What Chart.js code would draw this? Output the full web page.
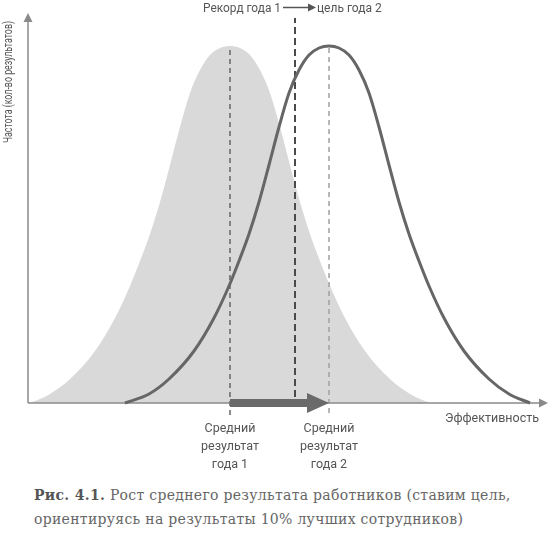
<!DOCTYPE html>
<html>
<head>
<meta charset="utf-8">
<script src="https://cdn.jsdelivr.net/npm/chart.js@4.4.1/dist/chart.umd.min.js"></script>
<style>
  body { margin: 0; background: #fff; width: 550px; height: 540px; overflow: hidden; position: relative; }
  #wrap { position: absolute; left: 0; top: 0; width: 550px; height: 480px; }
  .caption {
    position: absolute; left: 34px; top: 483px;
    font-family: "DejaVu Serif", "Liberation Serif", serif;
    font-size: 14px; line-height: 24px; letter-spacing: 0.3px; color: #666; white-space: nowrap;
  }
  .caption b { color: #555; }
</style>
</head>
<body>
<div id="wrap"><canvas id="chart" width="550" height="480"></canvas></div>
<div class="caption"><b>Рис. 4.1.</b> Рост среднего результата работников (ставим цель,<br>ориентируясь на результаты 10% лучших сотрудников)</div>
<script>
// effectiveness (x) and frequency (y)
const year1X = [2, 22, 42, 67, 87, 102, 112, 122, 132, 142, 152, 162, 172, 182, 192, 202,
                212, 222, 232, 242, 252, 262, 272, 282, 292, 302, 317, 337, 362, 382, 402];
const year1Y = [0, 9, 24, 52, 85, 117, 142, 169, 201, 238, 276, 310, 333, 348, 355, 357,
                355, 348, 333, 310, 276, 238, 201, 169, 142, 117, 85, 52, 24, 9, 0];

const year2X = [97, 121, 141, 166, 186, 201, 211, 221, 231, 241, 251, 261, 271, 281, 291, 301,
                311, 321, 331, 341, 351, 361, 371, 381, 391, 401, 416, 436, 461, 481, 502];
const year2Y = [0, 9, 24, 52, 85, 117, 142, 169, 201, 238, 276, 310, 333, 348, 355, 357,
                355, 348, 333, 310, 276, 238, 201, 169, 142, 117, 85, 52, 24, 9, 0];

const meanYear1 = 202;
const meanYear2 = 301;
const recordYear1 = 267;

const xMax = 520;
const yMax = 390;

function pts(xs, ys) {
    return xs.map((x, i) => ({ x: x, y: ys[i] }));
}

const axisColor = '#8a8a8a';
const arrowColor = '#6a6a6a';

function triangle(ctx, tipX, tipY, baseX1, baseY1, baseX2, baseY2) {
    ctx.beginPath();
    ctx.moveTo(tipX, tipY);
    ctx.lineTo(baseX1, baseY1);
    ctx.lineTo(baseX2, baseY2);
    ctx.closePath();
    ctx.fill();
}

const labelsPlugin = {
    id: 'labels',
    afterDatasetsDraw(chart) {
        const ctx = chart.ctx;
        const xs = chart.scales.x;
        const ys = chart.scales.y;
        ctx.save();

        // axis arrowheads
        ctx.fillStyle = axisColor;
        const x0 = xs.getPixelForValue(0), y0 = ys.getPixelForValue(0);
        const xEnd = xs.getPixelForValue(xMax), yEnd = ys.getPixelForValue(yMax);
        triangle(ctx, xEnd, y0, xEnd - 9, y0 - 4.5, xEnd - 9, y0 + 4.5);
        triangle(ctx, x0, yEnd, x0 - 4.5, yEnd + 9, x0 + 4.5, yEnd + 9);

        // growth arrowhead
        ctx.fillStyle = arrowColor;
        const m2 = xs.getPixelForValue(meanYear2);
        triangle(ctx, m2, y0, m2 - 22, y0 - 10, m2 - 22, y0 + 10);

        ctx.fillStyle = '#555';
        ctx.font = '12px Roboto, sans-serif';
        ctx.textBaseline = 'alphabetic';

        // top: record -> goal
        const rx = xs.getPixelForValue(recordYear1);
        ctx.textAlign = 'right';
        ctx.fillText('Рекорд года 1', rx - 14, 12, 78);
        ctx.textAlign = 'left';
        ctx.fillText('цель года 2', rx + 22, 12, 67);
        ctx.strokeStyle = '#555';
        ctx.lineWidth = 1.5;
        ctx.beginPath();
        ctx.moveTo(rx - 12, 7.5);
        ctx.lineTo(rx + 15, 7.5);
        ctx.stroke();
        triangle(ctx, rx + 21, 7.5, rx + 13, 3.5, rx + 13, 11.5);

        // x axis title
        ctx.font = '12.5px Roboto, sans-serif';
        ctx.fillText('Эффективность', 445, 422, 96);

        // mean labels
        ctx.textAlign = 'center';
        [[meanYear1, 'года 1'], [meanYear2, 'года 2']].forEach(([v, last]) => {
            const px = xs.getPixelForValue(v);
            ctx.fillText('Средний', px, 432);
            ctx.fillText('результат', px, 450);
            ctx.fillText(last, px, 468);
        });

        // y axis title
        ctx.font = '13px Roboto, sans-serif';
        ctx.translate(9, 82);
        ctx.rotate(-Math.PI / 2);
        ctx.textBaseline = 'middle';
        ctx.fillText('Частота (кол-во результатов)', 0, 0, 122);
        ctx.restore();
    }
};

const chart = new Chart(document.getElementById('chart'), {
    type: 'scatter',
    data: {
        datasets: [
            {
                label: 'Год 1',
                data: pts(year1X, year1Y),
                showLine: true,
                fill: 'origin',
                backgroundColor: '#d9d9d9',
                borderWidth: 0,
                cubicInterpolationMode: 'monotone',
                order: 10
            },
            {
                label: 'ось x',
                data: [{ x: 0, y: 0 }, { x: 513, y: 0 }],
                showLine: true,
                borderColor: axisColor,
                borderWidth: 1.5,
                clip: false,
                order: 9
            },
            {
                label: 'ось y',
                data: [{ x: 0, y: 0 }, { x: 0, y: 382 }],
                showLine: true,
                borderColor: axisColor,
                borderWidth: 1.5,
                clip: false,
                order: 9
            },
            {
                label: 'среднее 1',
                data: [{ x: meanYear1, y: -12 }, { x: meanYear1, y: 357 }],
                showLine: true,
                borderColor: '#666',
                borderWidth: 1.5,
                borderDash: [5, 4],
                clip: false,
                order: 6
            },
            {
                label: 'рекорд 1',
                data: [{ x: recordYear1, y: 6 }, { x: recordYear1, y: 385 }],
                showLine: true,
                borderColor: '#4a4a4a',
                borderWidth: 2,
                borderDash: [7, 4],
                clip: false,
                order: 6
            },
            {
                label: 'среднее 2',
                data: [{ x: meanYear2, y: -10 }, { x: meanYear2, y: 357 }],
                showLine: true,
                borderColor: '#a0a0a0',
                borderWidth: 1.5,
                borderDash: [5, 4],
                clip: false,
                order: 6
            },
            {
                label: 'Год 2',
                data: pts(year2X, year2Y),
                showLine: true,
                fill: false,
                borderColor: '#666',
                borderWidth: 3,
                cubicInterpolationMode: 'monotone',
                clip: false,
                order: 3
            },
            {
                label: 'рост',
                data: [{ x: meanYear1, y: 0 }, { x: 281, y: 0 }],
                showLine: true,
                borderColor: arrowColor,
                borderWidth: 8,
                borderCapStyle: 'butt',
                clip: false,
                order: 1
            }
        ]
    },
    options: {
        responsive: false,
        animation: false,
        layout: { padding: { left: 28, right: 2, top: 13, bottom: 77 } },
        elements: { point: { radius: 0, hoverRadius: 0 } },
        scales: {
            x: { type: 'linear', min: 0, max: xMax, display: false },
            y: { type: 'linear', min: 0, max: yMax, display: false }
        },
        plugins: {
            legend: { display: false },
            tooltip: { enabled: false }
        }
    },
    plugins: [labelsPlugin]
});
</script>
</body>
</html>
